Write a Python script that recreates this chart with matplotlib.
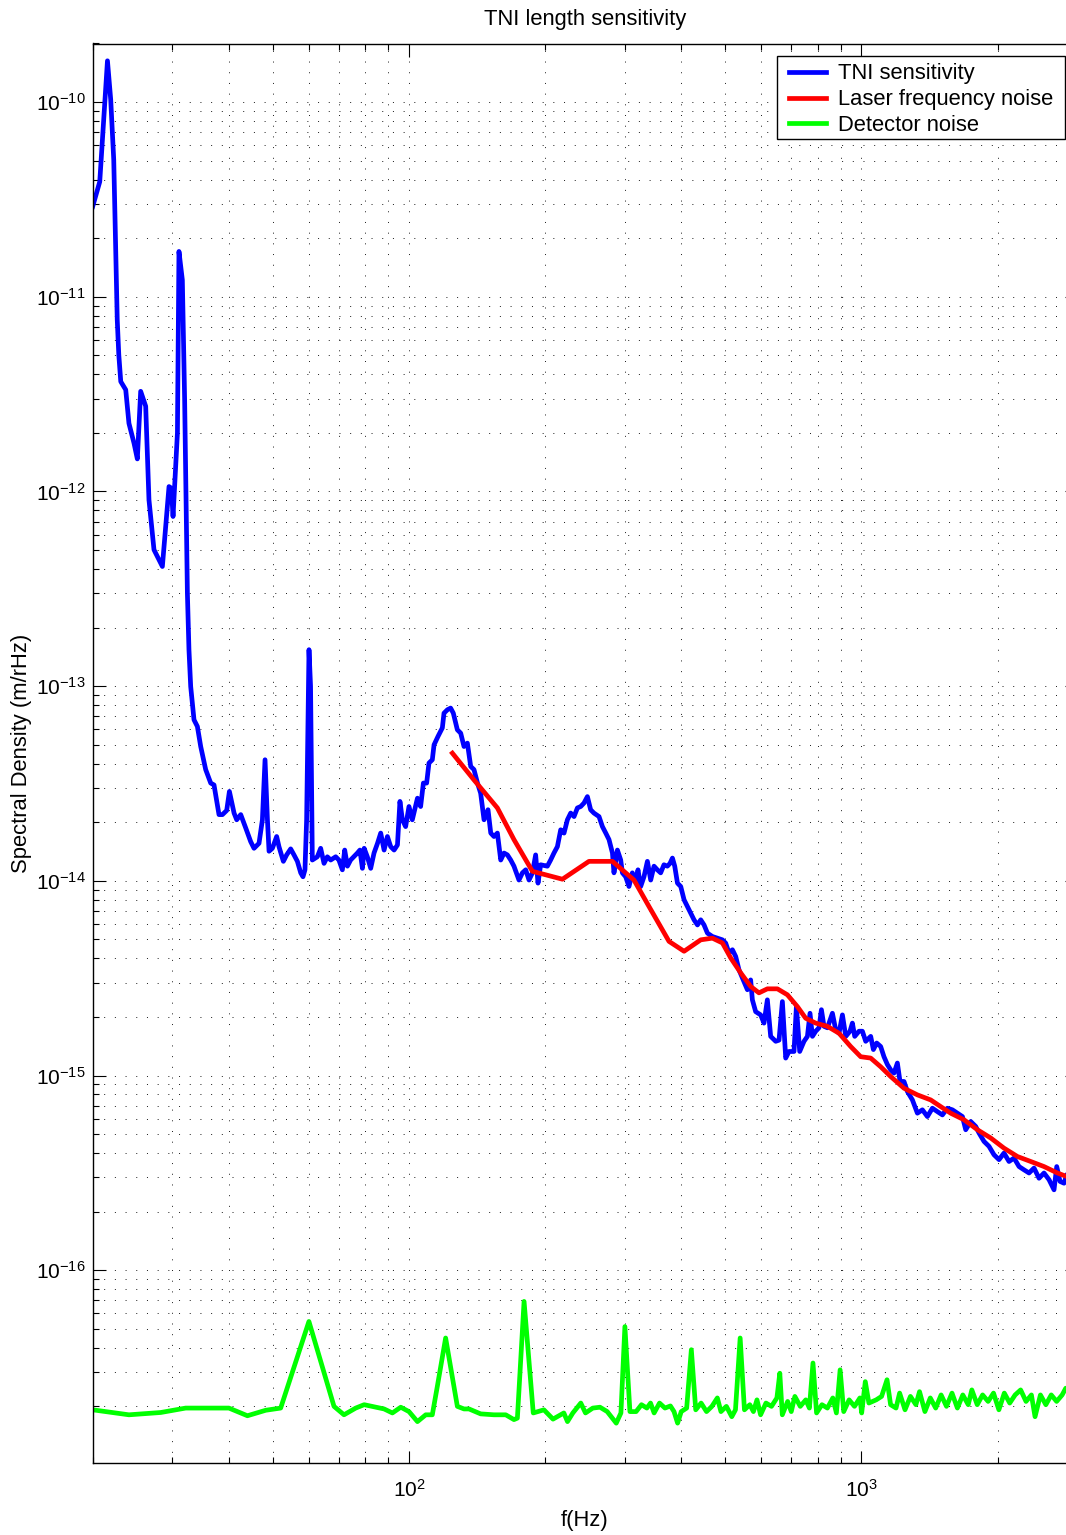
import matplotlib
matplotlib.use("Agg")
import matplotlib.pyplot as plt
from matplotlib.patches import Rectangle
from matplotlib.ticker import FixedLocator, NullFormatter, LogFormatterSciNotation

plt.rcParams['font.family'] = ['Liberation Sans', 'DejaVu Sans']
plt.rcParams['mathtext.fontset'] = 'custom'
plt.rcParams['mathtext.rm'] = 'Liberation Sans'
plt.rcParams['mathtext.it'] = 'Liberation Sans:italic'
plt.rcParams['mathtext.bf'] = 'Liberation Sans:bold'

# ---------------- data ----------------
tni_freq = [20.0, 20.73, 21.15, 21.56, 21.92, 22.26, 22.48, 22.66, 22.84, 23.07, 23.66, 24.05, 24.68, 25.1,
            25.53, 26.19, 26.63, 27.32, 28.51, 29.49, 29.85, 30.1, 30.78, 31.02, 31.56, 31.93, 32.38, 32.64,
            32.93, 33.49, 34.07, 34.65, 35.54, 36.46, 37.08, 38.03, 38.7, 39.55, 40.1, 41.06, 41.62, 42.48,
            43.57, 44.69, 45.45, 46.62, 47.43, 48.07, 48.66, 49.06, 49.9, 51.0, 51.6, 52.77, 53.66, 54.77,
            55.7, 56.67, 57.64, 58.31, 58.9, 59.4, 60.12, 60.6, 61.15, 62.73, 63.8, 64.9, 66.0, 67.14, 68.87,
            70.0, 71.25, 72.1, 73.1, 74.3, 76.9, 77.9, 78.9, 79.6, 80.9, 82.3, 83.7, 85.2, 86.6, 88.1, 89.6,
            91.1, 92.7, 94.3, 95.5, 96.7, 98.3, 100.0, 101.7, 104.4, 106.1, 107.6, 109.4, 110.7, 112.6, 113.6,
            115.9, 118.5, 119.5, 121.6, 123.6, 125.3, 127.9, 130.1, 132.3, 134.6, 136.9, 139.2, 141.7, 144.0,
            146.5, 149.5, 151.6, 154.1, 156.8, 159.5, 162.2, 165.0, 167.8, 170.6, 175.0, 178.1, 181.1, 184.2,
            187.4, 190.5, 192.8, 195.4, 202.2, 205.6, 209.1, 212.8, 216.4, 220.1, 223.9, 227.7, 231.6, 235.6,
            239.6, 243.6, 247.9, 252.0, 256.3, 263.0, 267.6, 272.2, 276.7, 281.6, 283.8, 288.8, 293.7, 296.2,
            301.2, 306.3, 311.6, 317.0, 320.7, 325.1, 330.6, 336.4, 342.1, 347.9, 353.9, 359.9, 366.0, 372.4,
            377.4, 382.1, 386.6, 392.0, 398.6, 405.4, 412.4, 419.4, 426.5, 434.0, 441.3, 448.8, 456.6, 468.3,
            480.4, 492.8, 501.1, 509.6, 518.5, 527.2, 536.2, 545.5, 559.5, 568.9, 573.9, 583.6, 598.6, 608.8,
            619.4, 629.9, 646.2, 657.2, 668.6, 680.0, 691.5, 709.3, 718.0, 730.2, 746.4, 759.4, 769.5, 779.0,
            792.2, 805.6, 815.5, 826.3, 840.7, 862.4, 877.0, 891.9, 907.5, 923.0, 943.2, 954.7, 966.1, 987.4,
            1004.6, 1021.6, 1047.9, 1062.4, 1080.4, 1102.5, 1121.2, 1140.7, 1160.1, 1179.8, 1200.3, 1216.5,
            1241.4, 1263.1, 1295.7, 1329.0, 1363.3, 1398.3, 1434.4, 1471.3, 1509.4, 1548.1, 1588.1, 1629.0,
            1671.2, 1699.5, 1743.2, 1788.2, 1818.5, 1865.2, 1913.4, 1962.6, 2013.3, 2064.9, 2118.4, 2173.0,
            2229.3, 2286.5, 2345.5, 2405.8, 2467.9, 2531.3, 2596.6, 2663.5, 2700.5, 2746.3, 2802.5, 2841.5,
            3000.0]
tni_asd = [2.91e-11, 3.90e-11, 8.11e-11, 1.63e-10, 1.03e-10, 5.06e-11, 1.74e-11, 7.62e-12, 5.04e-12, 3.67e-12,
           3.33e-12, 2.24e-12, 1.77e-12, 1.47e-12, 3.27e-12, 2.74e-12, 9.06e-13, 5.02e-13, 4.12e-13, 1.06e-12,
           1.04e-12, 7.44e-13, 2.0e-12, 1.71e-11, 1.22e-11, 2.96e-12, 3.01e-13, 1.54e-13, 9.96e-14, 6.72e-14,
           6.21e-14, 4.9e-14, 3.73e-14, 3.18e-14, 3.11e-14, 2.19e-14, 2.19e-14, 2.30e-14, 2.88e-14, 2.23e-14,
           2.06e-14, 2.19e-14, 1.87e-14, 1.59e-14, 1.47e-14, 1.56e-14, 2.06e-14, 4.19e-14, 2.06e-14, 1.42e-14,
           1.47e-14, 1.69e-14, 1.50e-14, 1.26e-14, 1.36e-14, 1.46e-14, 1.36e-14, 1.26e-14, 1.10e-14, 1.05e-14,
           1.14e-14, 2.06e-14, 1.54e-13, 1.0e-13, 1.28e-14, 1.33e-14, 1.47e-14, 1.23e-14, 1.33e-14, 1.28e-14,
           1.33e-14, 1.28e-14, 1.14e-14, 1.44e-14, 1.19e-14, 1.28e-14, 1.39e-14, 1.44e-14, 1.16e-14, 1.47e-14,
           1.33e-14, 1.16e-14, 1.39e-14, 1.56e-14, 1.76e-14, 1.44e-14, 1.69e-14, 1.50e-14, 1.44e-14, 1.53e-14,
           2.56e-14, 2.06e-14, 1.90e-14, 2.41e-14, 2.06e-14, 2.66e-14, 2.41e-14, 3.18e-14, 3.18e-14, 4.03e-14,
           4.19e-14, 5.0e-14, 5.52e-14, 6.11e-14, 7.27e-14, 7.57e-14, 7.72e-14, 7.27e-14, 5.97e-14, 5.74e-14,
           4.90e-14, 5.10e-14, 3.87e-14, 3.73e-14, 3.18e-14, 2.82e-14, 2.06e-14, 2.32e-14, 1.76e-14, 1.69e-14,
           1.76e-14, 1.28e-14, 1.39e-14, 1.36e-14, 1.28e-14, 1.19e-14, 1.01e-14, 1.10e-14, 1.14e-14, 1.01e-14,
           1.10e-14, 1.36e-14, 9.74e-15, 1.21e-14, 1.19e-14, 1.28e-14, 1.39e-14, 1.50e-14, 1.83e-14, 1.76e-14,
           2.06e-14, 2.23e-14, 2.14e-14, 2.37e-14, 2.41e-14, 2.51e-14, 2.71e-14, 2.32e-14, 2.23e-14, 2.14e-14,
           1.90e-14, 1.76e-14, 1.63e-14, 1.39e-14, 1.10e-14, 1.44e-14, 1.28e-14, 1.10e-14, 1.05e-14, 9.36e-15,
           1.10e-14, 1.01e-14, 1.14e-14, 9.36e-15, 1.05e-14, 1.26e-14, 1.01e-14, 1.19e-14, 1.14e-14, 1.10e-14,
           1.21e-14, 1.19e-14, 1.23e-14, 1.31e-14, 1.19e-14, 9.74e-15, 9.36e-15, 8.0e-15, 7.39e-15, 6.84e-15,
           6.31e-15, 5.94e-15, 6.31e-15, 5.94e-15, 5.39e-15, 5.18e-15, 5.08e-15, 4.98e-15, 4.79e-15, 4.26e-15,
           4.43e-15, 4.09e-15, 3.49e-15, 3.17e-15, 2.76e-15, 3.10e-15, 2.45e-15, 2.13e-15, 2.05e-15, 1.86e-15,
           2.45e-15, 1.59e-15, 1.50e-15, 1.52e-15, 2.40e-15, 1.23e-15, 1.33e-15, 1.33e-15, 2.26e-15, 1.33e-15,
           1.50e-15, 1.59e-15, 2.09e-15, 1.59e-15, 1.69e-15, 1.76e-15, 2.18e-15, 1.79e-15, 1.76e-15, 2.09e-15,
           1.72e-15, 1.65e-15, 2.05e-15, 1.59e-15, 1.69e-15, 1.86e-15, 1.59e-15, 1.69e-15, 1.69e-15, 1.50e-15,
           1.59e-15, 1.36e-15, 1.47e-15, 1.41e-15, 1.25e-15, 1.14e-15, 1.07e-15, 1.03e-15, 1.16e-15, 9.33e-16,
           9.33e-16, 8.28e-16, 7.5e-16, 6.41e-16, 6.67e-16, 6.16e-16, 6.80e-16, 6.53e-16, 6.28e-16, 6.80e-16,
           6.67e-16, 6.41e-16, 6.16e-16, 5.27e-16, 5.81e-16, 5.48e-16, 5.07e-16, 4.59e-16, 4.33e-16, 3.92e-16,
           3.70e-16, 4.0e-16, 3.62e-16, 3.77e-16, 3.41e-16, 3.28e-16, 3.16e-16, 3.35e-16, 2.97e-16, 3.16e-16,
           2.92e-16, 2.59e-16, 3.41e-16, 2.86e-16, 2.80e-16, 3.10e-16, 2.92e-16]

laser_freq = [124.7, 139.2, 156.8, 170.6, 187.4, 218.3, 249.9, 281.6, 314.2, 339.1, 375.5, 405.4, 441.3,
              468.3, 492.8, 514.0, 540.8, 568.9, 593.5, 619.4, 651.9, 685.9, 721.8, 752.8, 792.2, 840.7,
              891.9, 946.5, 995.9, 1047.9, 1102.5, 1160.1, 1241.4, 1329.0, 1422.0, 1496.2, 1574.4, 1684.8,
              1803.8, 1930.2, 2064.9, 2210.9, 2366.0, 2531.3, 2710.0, 2841.5, 3000.0]
laser_asd = [4.53e-14, 3.30e-14, 2.37e-14, 1.63e-14, 1.12e-14, 1.02e-14, 1.26e-14, 1.26e-14, 1.01e-14,
             7.39e-15, 4.89e-15, 4.35e-15, 4.98e-15, 5.08e-15, 4.80e-15, 4.02e-15, 3.37e-15, 2.87e-15,
             2.66e-15, 2.79e-15, 2.79e-15, 2.60e-15, 2.26e-15, 1.97e-15, 1.86e-15, 1.79e-15, 1.65e-15,
             1.41e-15, 1.25e-15, 1.23e-15, 1.11e-15, 9.89e-16, 8.61e-16, 7.96e-16, 7.5e-16, 6.93e-16,
             6.41e-16, 5.93e-16, 5.27e-16, 4.78e-16, 4.24e-16, 3.84e-16, 3.62e-16, 3.41e-16, 3.16e-16,
             3.03e-16, 2.9e-16]

det_freq = [20.0, 24.05, 28.27, 32.1, 40.0, 43.95, 48.24, 52.05, 60.1, 68.28, 71.84, 76.25, 79.6, 88.1,
            91.9, 95.9, 100.0, 104.4, 108.9, 112.6, 115.5, 120.5, 127.9, 132.3, 135.7, 144.0, 154.1, 163.6,
            170.6, 173.6, 179.6, 188.2, 198.7, 208.1, 219.9, 224.0, 230.2, 239.7, 245.5, 254.8, 264.3, 274.2,
            287.1, 294.0, 300.0, 307.8, 317.6, 326.4, 335.5, 341.8, 348.1, 357.8, 367.9, 378.2, 385.2, 392.3,
            399.6, 410.8, 420.7, 430.2, 442.1, 454.5, 467.1, 480.2, 489.1, 502.8, 516.8, 526.6, 539.3, 551.2,
            566.5, 577.0, 587.5, 598.4, 615.0, 632.5, 650.2, 659.9, 668.3, 686.8, 699.5, 712.4, 732.3, 753.1,
            767.1, 781.2, 795.6, 817.7, 840.7, 864.2, 880.1, 896.9, 913.5, 938.9, 965.0, 991.9, 1000.9,
            1019.5, 1038.3, 1077.6, 1107.6, 1138.7, 1159.6, 1192.0, 1214.1, 1247.9, 1282.7, 1319.0, 1343.5,
            1380.8, 1419.1, 1458.8, 1499.4, 1541.1, 1584.9, 1629.0, 1674.5, 1721.3, 1753.2, 1802.0, 1852.0,
            1904.7, 1957.6, 2012.0, 2068.1, 2126.2, 2185.3, 2247.5, 2309.9, 2374.1, 2418.3, 2485.5, 2555.1,
            2626.2, 2699.2, 2776.0, 2827.6, 3000.0]
det_asd = [1.92e-17, 1.81e-17, 1.86e-17, 1.96e-17, 1.96e-17, 1.79e-17, 1.91e-17, 1.96e-17, 5.46e-17, 2.0e-17,
           1.81e-17, 1.96e-17, 2.04e-17, 1.94e-17, 1.85e-17, 1.98e-17, 1.88e-17, 1.67e-17, 1.81e-17, 1.81e-17,
           2.53e-17, 4.49e-17, 2.0e-17, 1.94e-17, 1.94e-17, 1.83e-17, 1.81e-17, 1.81e-17, 1.71e-17, 1.74e-17,
           6.92e-17, 1.85e-17, 1.92e-17, 1.72e-17, 1.85e-17, 1.67e-17, 1.85e-17, 2.08e-17, 1.85e-17, 1.96e-17,
           1.98e-17, 1.88e-17, 1.64e-17, 1.85e-17, 5.14e-17, 1.88e-17, 1.88e-17, 2.04e-17, 1.96e-17, 2.08e-17,
           1.85e-17, 2.08e-17, 1.96e-17, 2.01e-17, 1.88e-17, 1.64e-17, 1.88e-17, 1.96e-17, 3.91e-17, 1.92e-17,
           2.08e-17, 1.88e-17, 2.0e-17, 2.21e-17, 1.88e-17, 2.0e-17, 1.77e-17, 1.92e-17, 4.49e-17, 1.92e-17,
           2.04e-17, 1.88e-17, 2.16e-17, 1.81e-17, 2.08e-17, 2.0e-17, 2.21e-17, 2.96e-17, 1.81e-17, 2.12e-17,
           1.88e-17, 2.25e-17, 2.0e-17, 2.16e-17, 1.96e-17, 3.34e-17, 1.85e-17, 2.04e-17, 1.96e-17, 2.21e-17,
           1.85e-17, 3.08e-17, 1.88e-17, 2.16e-17, 2.0e-17, 2.21e-17, 1.85e-17, 2.68e-17, 2.08e-17, 2.16e-17,
           2.25e-17, 2.74e-17, 2.04e-17, 1.96e-17, 2.34e-17, 1.92e-17, 2.25e-17, 2.04e-17, 2.38e-17, 1.88e-17,
           2.21e-17, 1.96e-17, 2.29e-17, 2.0e-17, 2.34e-17, 1.96e-17, 2.29e-17, 2.04e-17, 2.43e-17, 2.04e-17,
           2.29e-17, 2.12e-17, 2.34e-17, 1.92e-17, 2.34e-17, 2.08e-17, 2.29e-17, 2.43e-17, 2.12e-17, 2.29e-17,
           1.77e-17, 2.29e-17, 2.04e-17, 2.29e-17, 2.12e-17, 2.29e-17, 2.48e-17, 2.2e-17]

series_labels = ["TNI sensitivity", "Laser frequency noise", "Detector noise"]
x_major = [100, 1000]
x_minor = [20, 30, 40, 50, 60, 70, 80, 90, 200, 300, 400, 500, 600, 700, 800, 900, 2000, 3000]
y_major = [1e-16, 1e-15, 1e-14, 1e-13, 1e-12, 1e-11, 1e-10]
y_minor = [m * 10.0 ** e for e in range(-17, -9) for m in range(2, 10)]

# ---------------- figure ----------------
W, H = 1066, 1535
fig = plt.figure(figsize=(W / 100, H / 100), dpi=100)
ax_top, ax_bot, ax_left, ax_right = 43.5, 1463.3, 92.7, 1077.4
ax = fig.add_axes([ax_left / W, 1 - ax_bot / H, (ax_right - ax_left) / W, (ax_bot - ax_top) / H])
ax.set_xscale('log')
ax.set_yscale('log')

lw = 3.4
ax.plot(tni_freq, tni_asd, color=(0, 0, 1), lw=lw, label=series_labels[0], solid_joinstyle='round')
ax.plot(laser_freq, laser_asd, color=(1, 0, 0), lw=lw, label=series_labels[1], solid_joinstyle='round')
ax.plot(det_freq, det_asd, color=(0, 1, 0), lw=lw, label=series_labels[2], solid_joinstyle='round')

ax.set_xlim(20, 3000)
ax.set_ylim(1.02e-17, 2e-10)

ax.xaxis.set_major_locator(FixedLocator(x_major))
ax.xaxis.set_minor_locator(FixedLocator(x_minor))
ax.yaxis.set_major_locator(FixedLocator(y_major))
ax.yaxis.set_minor_locator(FixedLocator(y_minor))
ax.xaxis.set_major_formatter(LogFormatterSciNotation())
ax.yaxis.set_major_formatter(LogFormatterSciNotation())
ax.xaxis.set_minor_formatter(NullFormatter())
ax.yaxis.set_minor_formatter(NullFormatter())

ax.tick_params(which='both', direction='in', top=True, right=True, width=0.8, color='k')
ax.tick_params(which='major', length=9, labelsize=15)
ax.tick_params(which='minor', length=4.5)
ax.tick_params(axis='x', which='major', pad=11.5)
ax.tick_params(axis='y', which='major', pad=5)

ax.set_axisbelow(True)
ax.grid(True, which='both', color='0.1', linestyle=(0, (1, 10)), linewidth=0.7)

for s in ax.spines.values():
    s.set_linewidth(1.0)
    s.set_color('k')

txt_size = 15.8
ax.set_title('TNI length sensitivity', fontsize=txt_size, pad=13.5)
ax.set_xlabel('f(Hz)', fontsize=txt_size, labelpad=6.5)
ax.set_ylabel('Spectral Density (m/rHz)', fontsize=txt_size, labelpad=3)

# legend frame (drawn separately so horizontal and vertical padding can differ)
frame = Rectangle((777 / W, 1 - 139 / H), 288 / W, 83 / H, transform=fig.transFigure,
                  facecolor='white', edgecolor='k', linewidth=1.0, zorder=4.9, clip_on=False)
ax.add_patch(frame)
leg = ax.legend(loc='upper left', bbox_to_anchor=(789 / W, 1 - 63.5 / H), bbox_transform=fig.transFigure,
                fontsize=txt_size, frameon=False, borderpad=0, handlelength=1.7, handletextpad=0.55,
                labelspacing=0.22, borderaxespad=0)
leg.set_zorder(5)

fig.savefig('out.png', dpi=100)
